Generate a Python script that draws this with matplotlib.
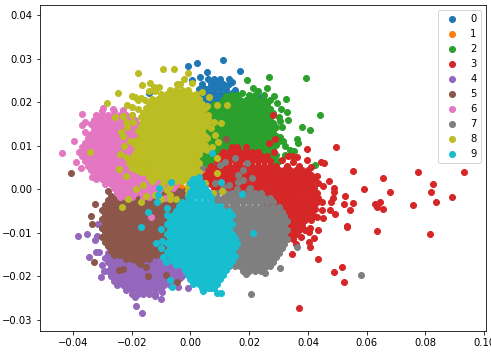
import numpy as np
import matplotlib
matplotlib.use('Agg')
import matplotlib.pyplot as plt

# All values, in units of 0.001
# rows = (y, [x, x, ...]) for the dense parts, loose = (x, y) for single points

rows0 = [
    (25.2, [6, 8, 10, 13]),
    (24.15, [4, 7, 9, 11, 13]),
    (23.1, [3, 5, 6, 8, 10, 12]),
    (22.05, [4, 6, 8, 10, 12, 14]),
    (21.0, [3, 5, 7, 9, 11, 13]),
    (19.95, [4, 6, 8, 10, 12, 14]),
]
loose0 = [(-0.8, 28.3), (2.1, 28.9), (11.1, 29.6), (16.9, 27.1), (5.7, 26.8), (3.2, 25.8), (0.5, 25), (-14, 22),
          (14.1, 24.6), (15.2, 22.8), (24, 21.2)]

rows1 = [(0.2, [-4, -3]), (-2.0, [0])]
loose1 = [(-4, 0.6)]

rows2 = [
    (21.6, [14, 16, 20, 22, 25]),
    (20.55, [11, 13, 15, 17, 19, 21, 23, 25, 27]),
    (19.5, [8, 10, 12, 14, 16, 18, 20, 22, 24, 26]),
    (18.45, [7, 9, 11, 13, 15, 17, 19, 21, 23, 25, 27]),
    (17.4, [6, 8, 10, 12, 14, 16, 18, 20, 22, 24, 26, 28]),
    (16.35, [5, 7, 9, 11, 13, 15, 17, 19, 21, 23, 25, 27]),
    (15.3, [4, 6, 8, 10, 12, 14, 16, 18, 20, 22, 24, 26, 28]),
    (14.25, [5, 7, 9, 11, 13, 15, 17, 19, 21, 23, 25, 27, 29]),
    (13.2, [4, 6, 8, 10, 12, 14, 16, 18, 20, 22, 24, 26, 28]),
    (12.15, [5, 7, 9, 11, 13, 15, 17, 19, 21, 23, 25, 27, 29]),
    (11.1, [4, 6, 8, 10, 12, 14, 16, 18, 20, 22, 24, 26, 28, 30]),
    (10.05, [3, 5, 7, 9, 11, 13, 15, 17, 19, 21, 23, 25, 27, 29]),
    (9.0, [2, 4, 6, 8, 10, 12, 14, 16, 18, 20, 22, 24, 26, 28]),
    (7.95, [1, 3, 5, 7, 9, 11, 13, 15, 17, 19, 21, 23, 25, 27, 29]),
    (6.9, [2, 4, 6, 8, 10, 26, 28]),
    (5.85, [1, 3, 5, 7, 28]),
    (4.8, [0, 2, 4]),
    (3.75, [1, 3]),
]
loose2 = [(26.7, 25.7), (39.4, 25.5), (26, 23.2), (28.4, 21.3), (32.5, 20.6), (29.4, 19.7), (30.8, 18.3),
          (32.8, 17.7), (44, 17), (38, 14.2), (40.6, 13.5), (31, 14.2), (33.2, 15.8), (30.4, 15.7), (36.3, 11.5),
          (36.6, 10.6), (32.2, 10), (33.8, 9), (35.1, 8.8), (42.3, 5.5), (30, 6.5), (30.5, 12), (32.2, 7.8),
          (27, 18.3), (19.2, 25), (21.3, 23.2), (23, 22.5), (12, 21.5), (17.5, 22), (30, 16.5), (31.5, 11)]

rows3 = [
    (9.6, [14, 16, 19]),
    (8.55, [11, 13, 15, 17, 19, 21, 23]),
    (7.5, [10, 12, 14, 16, 18, 20, 22, 24, 26]),
    (6.45, [9, 11, 13, 15, 17, 19, 21, 23, 25, 27]),
    (5.4, [7, 9, 11, 13, 15, 17, 19, 21, 23, 25, 27, 29, 33, 37]),
    (4.35, [6, 8, 10, 12, 14, 16, 18, 20, 22, 24, 26, 28, 30, 32, 34, 36, 38, 40]),
    (3.3, [5, 7, 9, 11, 13, 15, 17, 19, 21, 23, 25, 27, 29, 31, 33, 35, 37, 39, 41]),
    (2.25, [4, 6, 8, 10, 12, 14, 16, 18, 20, 22, 24, 26, 28, 30, 32, 34, 36, 38, 40, 42]),
    (1.2, [5, 7, 9, 11, 13, 15, 17, 19, 21, 23, 25, 27, 29, 31, 33, 35, 37, 39, 41]),
    (0.15, [8, 10, 12, 14, 16, 18, 20, 22, 24, 26, 28, 30, 32, 34, 36, 38, 40, 42]),
    (-0.9, [13, 15, 17, 19, 21, 23, 25, 27, 29, 31, 33, 35, 37, 39, 41, 43]),
    (-1.95, [24, 26, 28, 30, 32, 34, 36, 38, 40, 42]),
    (-3.0, [25, 27, 29, 31, 33, 35, 37, 39, 41, 43]),
    (-4.05, [28, 30, 32, 34, 36, 38, 40, 42]),
    (-5.1, [29, 31, 33, 35, 37, 39, 41]),
    (-6.15, [28, 30, 32, 34, 36, 38, 40, 42]),
    (-7.2, [29, 31, 33, 35, 37, 39, 41]),
    (-8.25, [30, 32, 34, 36, 38]),
    (-9.3, [29, 31, 33, 35, 37, 39]),
    (-10.35, [30, 32, 34, 36]),
    (-11.4, [31, 33, 35]),
]
loose3 = [(49.5, 9.6), (39.7, 9.2), (28, 17), (26.8, 10.7), (28.8, 11.4), (28.4, 8.5), (39.7, 6.8), (33.2, 7.6),
          (34.5, 7.6), (36.2, 7.3), (44.4, 6.2), (45.4, 6), (55.3, 4.1), (77.4, 3.9), (93, 3.9), (65.5, 2.5),
          (47, 1.8), (82.5, 1.1), (81.8, -0.6), (83.5, -3), (89, -1.9), (75.7, -3.7), (67.9, -0.7), (59, 0),
          (52.6, -1.5), (52.2, -3.4), (55.3, -3.2), (54.3, -4.9), (62.8, -3.4), (63.4, -4), (64.5, -2.9),
          (65.5, -4.5), (53.2, -8.4), (53.2, -8.8), (63.4, -9.7), (81.5, -10.4), (43.5, 1.3), (45, 0.7), (48.9, 0.2),
          (48.9, -0.6), (48.5, -2), (47.7, -3), (44.7, -3), (44.7, -4.9), (47.5, -4.9), (49.2, -5.7), (45.2, -6.6),
          (43, -6.5), (43.5, -9.5), (42, -11.2), (40.3, -12.2), (40.6, -13.3), (40.6, -9), (40.3, -9.9), (34.6, -15),
          (43.5, -16), (51.6, -18), (48.9, -19), (52.3, -21.4), (37, -27.4), (37.5, -11), (36, -12.5), (43.5, -2),
          (42.5, -4.5), (41, 5), (43, 3), (35, 6.3), (31, 6.8)]

rows4 = [
    (-14.7, [-28, -26, -24, -22, -20, -18, -16, -14, -12, -10, -8, -6, -4]),
    (-15.75, [-29, -27, -25, -23, -21, -19, -17, -15, -13, -11, -9, -7, -5, -3]),
    (-16.8, [-28, -26, -24, -22, -20, -18, -16, -14, -12, -10, -8, -6, -4]),
    (-17.85, [-27, -25, -23, -21, -19, -17, -15, -13, -11, -9, -7, -5, -3]),
    (-18.9, [-28, -26, -24, -22, -20, -18, -16, -14, -12, -10, -8, -6, -4]),
    (-19.95, [-27, -25, -23, -21, -19, -17, -15, -13, -11, -9, -7, -5, -3]),
    (-21.0, [-26, -24, -22, -20, -18, -16, -14, -12, -10, -8, -6]),
    (-22.05, [-25, -23, -21, -19, -17, -15, -13, -11, -9, -7]),
    (-23.1, [-22, -20, -18, -16, -14, -12, -10]),
    (-24.0, [-20, -18, -16, -14, -12]),
]
loose4 = [(-38.3, -10.8), (-35.2, -10.2), (-32.5, -11.7), (-31.8, -10.8), (-34.5, -15.5), (-32, -14.5), (-31, -14.5),
          (-30, -17.5), (-29.4, -18.8), (-30.4, -20.2), (-31.5, -8), (-30, -9), (-18.9, -24.8), (-18.5, -26.9),
          (-16.5, -28.5), (-12, -24.6), (-10, -25.3), (-9.7, -23.7), (-0.9, -22.8), (-4.3, -22.5), (-3.5, -20.5)]

rows5 = [
    (-0.5, [-28, -25, -22, -20, -18, -16, -14, -12, -10, -8, -6, -4, -2, 0, 2]),
    (-1.55, [-27, -25, -23, -21, -19, -17, -15, -13, -11, -9, -7, -5, -3, -1, 1, 3]),
    (-2.6, [-28, -26, -24, -22, -20, -18, -16, -14, -12, -10, -8, -6, -4, -2]),
    (-3.65, [-29, -27, -25, -23, -21, -19, -17, -15, -13, -11, -9, -7, -5]),
    (-4.7, [-30, -28, -26, -24, -22, -20, -18, -16, -14, -12, -10, -8, -6]),
    (-5.75, [-29, -27, -25, -23, -21, -19, -17, -15, -13, -11, -9, -7, -5]),
    (-6.8, [-30, -28, -26, -24, -22, -20, -18, -16, -14, -12, -10, -8, -6]),
    (-7.85, [-29, -27, -25, -23, -21, -19, -17, -15, -13, -11, -9, -7, -5]),
    (-8.9, [-30, -28, -26, -24, -22, -20, -18, -16, -14, -12, -10, -8, -6]),
    (-9.95, [-29, -27, -25, -23, -21, -19, -17, -15, -13, -11, -9, -7, -5]),
    (-11.0, [-30, -28, -26, -24, -22, -20, -18, -16, -14, -12, -10, -8, -6]),
    (-12.05, [-29, -27, -25, -23, -21, -19, -17, -15, -13, -11, -9, -7, -5]),
    (-13.1, [-28, -26, -24, -22, -20, -18, -16, -14, -12, -10, -8, -6]),
    (-14.15, [-27, -25, -23, -21, -19, -17, -15, -13, -11, -9, -7, -5]),
    (-15.2, [-26, -24, -22, -20, -18, -16, -14, -12, -10, -8]),
    (-16.0, [-22, -20, -18, -16, -14]),
]
loose5 = [(-40.6, 3.6), (-32.5, -3.4), (-33.8, -6.2), (-33.5, -8), (-33, -16.8), (-18.2, -16.6), (-17.2, -17.3),
          (-15, -17.8), (-24.3, -18.6), (-23, -18.4), (-14.5, -20), (-8.3, -19.8), (-4.6, -21.4), (12, 11.5)]

rows6 = [
    (18.0, [-30, -26, -23]),
    (16.95, [-32, -30, -28, -26, -24, -22, -20]),
    (15.9, [-33, -31, -29, -27, -25, -23, -21, -19]),
    (14.85, [-34, -32, -30, -28, -26, -24, -22, -20, -18]),
    (13.8, [-33, -31, -29, -27, -25, -23, -21, -19, -17]),
    (12.75, [-34, -32, -30, -28, -26, -24, -22, -20, -18, -16]),
    (11.7, [-35, -33, -31, -29, -27, -25, -23, -21, -19, -17, -15]),
    (10.65, [-36, -34, -32, -30, -28, -26, -24, -22, -20, -18, -16, -14]),
    (9.6, [-37, -35, -33, -31, -29, -27, -25, -23, -21, -19, -17, -15]),
    (8.55, [-38, -36, -34, -32, -30, -28, -26, -24, -22, -20, -18, -16, -14]),
    (7.5, [-37, -35, -33, -31, -29, -27, -25, -23, -21, -19, -17, -15, -13]),
    (6.45, [-36, -34, -32, -30, -28, -26, -24, -22, -20, -18, -16, -14]),
    (5.4, [-35, -33, -31, -29, -27, -25, -23, -21, -19, -17, -15, -13]),
    (4.35, [-34, -32, -30, -28, -26, -24, -22, -20, -18, -16, -14, -12]),
    (3.3, [-33, -31, -29, -27, -25, -23, -21, -19, -17, -15, -13, -11, -9]),
    (2.25, [-32, -30, -28, -26, -24, -22, -20, -18, -16, -14, -12, -10, -8]),
    (1.2, [-29, -27, -25, -23, -21, -19, -17, -15, -13, -11, -9, -7, -5]),
    (0.15, [-26, -24, -22, -20, -18, -16, -14, -12, -10, -8, -6]),
    (-0.9, [-25, -23, -21, -19, -17, -15, -13, -11]),
    (-1.7, [-24, -22, -20, -16, -14]),
]
loose6 = [(-43.7, 8.3), (-36.9, 17.2), (-36.9, 14.7), (-35.9, 15.4), (-39.6, 11), (-35.9, 13.1), (-39, 6.2),
          (-37.2, 4.8), (-33.2, 14.9), (-29.8, 18.6), (-26.4, 18.3), (-23, 18.2), (-33.5, 2.8), (-13.4, -6.4),
          (-8.7, -2)]

rows7 = [
    (0.1, [16, 20]),
    (-0.95, [9, 12, 14, 16, 18, 20, 22, 24]),
    (-2.0, [7, 9, 11, 13, 15, 17, 19, 21, 23, 25, 27]),
    (-3.05, [8, 10, 12, 14, 16, 18, 20, 22, 24, 26, 28]),
    (-4.1, [10, 12, 14, 16, 18, 20, 22, 24, 26, 28, 30]),
    (-5.15, [11, 13, 15, 17, 19, 21, 23, 25, 27, 29, 31]),
    (-6.2, [12, 14, 16, 18, 20, 22, 24, 26, 28, 30, 32]),
    (-7.25, [13, 15, 17, 19, 21, 23, 25, 27, 29, 31, 33]),
    (-8.3, [12, 14, 16, 18, 20, 22, 24, 26, 28, 30, 32]),
    (-9.35, [13, 15, 17, 19, 21, 23, 25, 27, 29, 31, 33]),
    (-10.4, [12, 14, 16, 18, 20, 22, 24, 26, 28, 30, 32]),
    (-11.45, [13, 15, 17, 19, 21, 23, 25, 27, 29, 31, 33]),
    (-12.5, [12, 14, 16, 18, 20, 22, 24, 26, 28, 30, 32]),
    (-13.55, [13, 15, 17, 19, 21, 23, 25, 27, 29, 31]),
    (-14.6, [14, 16, 18, 20, 22, 24, 26, 28, 30]),
    (-15.65, [13, 15, 17, 19, 21, 23, 25, 27, 29]),
    (-16.7, [14, 16, 18, 20, 22, 24, 26, 28]),
    (-17.75, [13, 15, 17, 19, 21, 23, 25, 27]),
    (-18.8, [18, 20, 22, 24]),
]
loose7 = [(58, -19.8), (36.2, -13.3), (25.4, -19.3), (30.5, -18.2), (25.4, -17.9), (20.6, -24), (19, -19.5),
          (15.1, 7.1), (10, 5.5), (11.7, 6.2), (19.2, 6), (17.9, 4.4), (16.2, 3.2), (16.2, 1.6), (17.9, 2.1),
          (20.9, 2.5), (20.2, 0.2), (3.9, 4.8), (8.3, 1.4), (11, 0.5), (13, 1)]

rows8 = [
    (22.8, [-7, -5, -3, -1]),
    (21.75, [-10, -8, -6, -4, -2, 0, 2]),
    (20.7, [-13, -11, -9, -7, -5, -3, -1, 1, 3]),
    (19.65, [-14, -12, -10, -8, -6, -4, -2, 0, 2, 4]),
    (18.6, [-15, -13, -11, -9, -7, -5, -3, -1, 1, 3, 5]),
    (17.55, [-16, -14, -12, -10, -8, -6, -4, -2, 0, 2, 4]),
    (16.5, [-17, -15, -13, -11, -9, -7, -5, -3, -1, 1, 3, 5]),
    (15.45, [-16, -14, -12, -10, -8, -6, -4, -2, 0, 2, 4, 6]),
    (14.4, [-17, -15, -13, -11, -9, -7, -5, -3, -1, 1, 3, 5]),
    (13.35, [-18, -16, -14, -12, -10, -8, -6, -4, -2, 0, 2, 4]),
    (12.3, [-17, -15, -13, -11, -9, -7, -5, -3, -1, 1, 3, 5]),
    (11.25, [-18, -16, -14, -12, -10, -8, -6, -4, -2, 0, 2, 4]),
    (10.2, [-19, -17, -15, -13, -11, -9, -7, -5, -3, -1, 1, 3, 5]),
    (9.15, [-18, -16, -14, -12, -10, -8, -6, -4, -2, 0, 2, 4]),
    (8.1, [-19, -17, -15, -13, -11, -9, -7, -5, -3, -1, 1, 3]),
    (7.05, [-20, -18, -16, -14, -12, -10, -8, -6, -4, -2, 0, 2]),
    (6.0, [-21, -19, -17, -15, -13, -11, -9, -7, -5, -3, -1, 1, 3]),
    (4.95, [-20, -18, -16, -14, -12, -10, -8, -6, -4, -2, 0, 2]),
    (3.9, [-17, -15, -13, -11, -9, -7, -5, -3, -1, 1, 3]),
    (2.85, [-14, -12, -10, -8, -6, -4, -2, 0, 2]),
    (1.8, [-13, -9, -7, -5, -3, -1, 1, 3]),
    (0.75, [-10, -7, -1]),
    (-0.3, [-8, -1]),
    (-1.3, [-12, -7, -1]),
    (-2.3, [-10, -7, -5]),
]
loose8 = [(-28.4, 19.8), (-24.7, 22), (-17.8, 26.6), (-9.3, 27.5), (-5.5, 27.7), (-0.8, 26.6), (-2.2, 25.4), (0.6, 24.3),
          (-16.5, 23.9), (-13.8, 24.3), (-10.7, 23.4), (-12.5, 23.4), (-4.5, 24.2), (-3.5, 24.2), (4, 22.4),
          (6.4, 21.1), (9.1, 19.3), (12.4, 19.3), (10.4, 15.1), (8, 15.5), (6, 16), (-25.7, 16.6), (-23, 16.8),
          (-21.6, 19.3), (-18.9, 21.1), (-20, 21.5), (-18, 20.5), (-34.2, 8.5), (-24.3, 4.6), (-22.6, 9.9),
          (-23.6, 13.1), (-23, 12.2), (-21.6, 14.2), (-22, 7.4), (-20.6, 6), (-19.6, 4.8), (-18.2, 4.4), (-20.5, 11),
          (-19, 11), (-18.5, 8.5), (9, 7.1), (9, 3.7), (8.3, 12.4), (5.6, 11.7), (9.4, 10.8), (7.3, 9.7), (5.6, 9),
          (-18.6, 0), (-21.3, -2.3), (-23.3, -4.1), (-16.8, -3), (7.7, -0.9), (10.6, -0.5), (-22, 15.5), (-20, 17),
          (-19.5, 15.5), (-20, 18.8), (-18, 18.5), (-17, 21), (-15.5, 20.5), (-14, 22.5), (-12, 22.5), (6, 17),
          (7, 14), (5.5, 19), (-24, 8), (-22, 3), (-16, 1), (3, 2.2), (5, 1.5), (2, -1.2), (-15, -1.5)]

rows9 = [
    (2.4, [1, 3]),
    (1.35, [0, 2, 4]),
    (0.3, [1, 3, 5]),
    (-0.75, [0, 2, 4, 6]),
    (-1.8, [-1, 1, 3, 5, 7]),
    (-2.85, [-3, -1, 1, 3, 5, 7]),
    (-3.9, [-4, -2, 0, 2, 4, 6, 8, 10]),
    (-4.95, [-5, -3, -1, 1, 3, 5, 7, 9, 11, 13]),
    (-6.0, [-8, -6, -4, -2, 0, 2, 4, 6, 8, 10, 12, 14]),
    (-7.05, [-7, -5, -3, -1, 1, 3, 5, 7, 9, 11, 13]),
    (-8.1, [-8, -6, -4, -2, 0, 2, 4, 6, 8, 10, 12, 14]),
    (-9.15, [-7, -5, -3, -1, 1, 3, 5, 7, 9, 11, 13]),
    (-10.2, [-8, -6, -4, -2, 0, 2, 4, 6, 8, 10, 12, 14]),
    (-11.25, [-7, -5, -3, -1, 1, 3, 5, 7, 9, 11, 13, 15]),
    (-12.3, [-8, -6, -4, -2, 0, 2, 4, 6, 8, 10, 12, 14, 16]),
    (-13.35, [-7, -5, -3, -1, 1, 3, 5, 7, 9, 11, 13, 15]),
    (-14.4, [-8, -6, -4, -2, 0, 2, 4, 6, 8, 10, 12, 14]),
    (-15.45, [-7, -5, -3, -1, 1, 3, 5, 7, 9, 11, 13, 15]),
    (-16.5, [-6, -4, -2, 0, 2, 4, 6, 8, 10, 12, 14]),
    (-17.55, [-5, -3, -1, 1, 3, 5, 7, 9, 11, 13]),
    (-18.6, [-2, 0, 2, 4, 6, 8, 10, 12]),
    (-19.65, [-1, 1, 3, 5, 7, 9, 11]),
    (-20.7, [0, 2, 4, 6, 8, 10]),
    (-21.75, [1, 3, 5, 7, 9]),
    (-22.7, [4, 6, 8]),
]
loose9 = [(7.3, 8.3), (2.9, 2.8), (-6.6, 1.6), (-10.7, 0.2), (-11, -1.4), (-11.4, -3), (-8, -4.4), (-14.5, -5.3),
          (-16.8, -8.7), (-10, -9.2), (-11.7, -12.4), (-9.7, -12), (-10, -13.5), (-9.4, -15.6), (-8.3, -16.8),
          (10.4, 1.6), (17.5, -1.1), (21.3, -10.1), (-7, -20.9), (-6.4, -22.5), (4.3, -23.4), (9, -23.9), (10.4, -23.9),
          (7, -22.8)]

labels = ['0', '1', '2', '3', '4', '5', '6', '7', '8', '9']
rows_all = [rows0, rows1, rows2, rows3, rows4, rows5, rows6, rows7, rows8, rows9]
loose_all = [loose0, loose1, loose2, loose3, loose4, loose5, loose6, loose7, loose8, loose9]


def points(rows, loose):
    xs = [x for y, r in rows for x in r] + [p[0] for p in loose]
    ys = [y for y, r in rows for x in r] + [p[1] for p in loose]
    return np.array(xs) * 1e-3, np.array(ys) * 1e-3


fig = plt.figure(figsize=(491 / 72, 354 / 72), dpi=72)
ax = fig.add_axes([39.5 / 491, 1 - 331 / 354, (485.7 - 39.5) / 491, (331 - 5) / 354])

for i in range(10):
    x, y = points(rows_all[i], loose_all[i])
    ax.scatter(x, y, label=labels[i])

ax.set_xlim(-0.0514, 0.1005)
ax.set_ylim(-0.0326, 0.0423)
ax.legend(loc='upper right')

plt.savefig('out.png', dpi=72)
